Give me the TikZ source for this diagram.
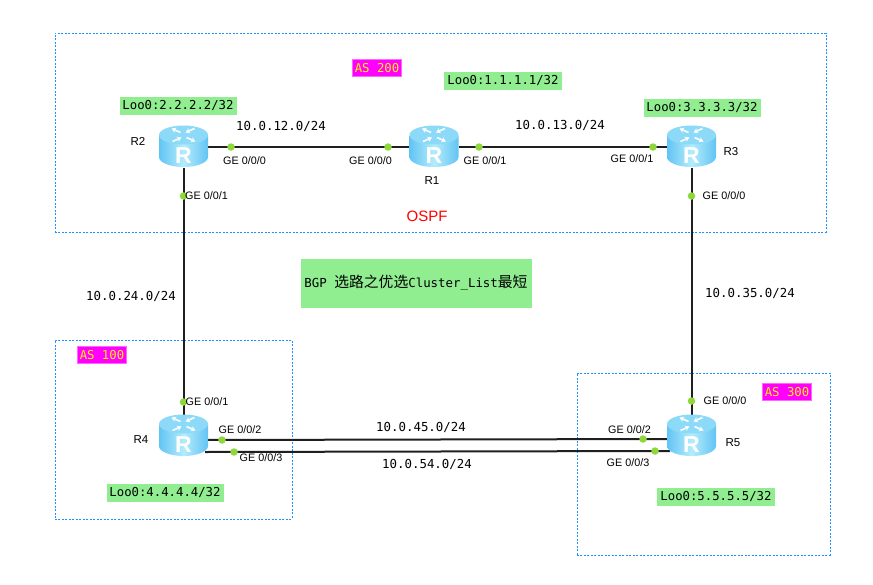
\documentclass[tikz,border=0pt]{standalone}
\usepackage{fontspec}
\usetikzlibrary{arrows.meta}
\setmainfont{Liberation Sans}
\newfontfamily\monof{DejaVu Sans Mono}
\newfontfamily\cjkf{Noto Sans CJK SC}
\definecolor{lgreen}{HTML}{90EE90}
\definecolor{mag}{HTML}{FF00FF}
\definecolor{dotg}{HTML}{8FD83C}
\definecolor{areab}{HTML}{1E90FF}
\definecolor{rside}{HTML}{62C4F4}
\definecolor{rmid}{HTML}{B4ECFC}
\definecolor{rtop}{HTML}{8CDAF8}
\tikzset{
  link/.style={line width=2pt,draw=black!88},
  area/.style={draw=areab,line width=0.7pt,dash pattern=on 2pt off 1.5pt},
  loo/.style={fill=lgreen,inner sep=0pt,minimum height=18pt,text=black,font=\monof\fontsize{12.3}{14}\selectfont},
  asn/.style={fill=mag,draw=mag!60!white,line width=0.5pt,inner sep=0pt,minimum height=17pt,minimum width=49pt,text=yellow,font=\monof\fontsize{12.3}{14}\selectfont},
  net/.style={inner sep=0pt,font=\monof\fontsize{12.4}{14}\selectfont},
  ge/.style={inner sep=0pt,font=\fontsize{10.8}{12}\selectfont},
  rname/.style={inner sep=0pt,font=\fontsize{11.5}{13}\selectfont},
  port/.style={circle,fill=dotg,draw=none,minimum size=7.5pt,inner sep=0pt},
  rt/.style={minimum width=49pt,minimum height=42pt,inner sep=0pt},
  rarrow/.style={white,opacity=.9,line width=1.7pt,-{Stealth[length=4.5pt,width=5.5pt]}}
}
% router icon centred on a named node
\newcommand{\routericon}[1]{%
  \begin{scope}[shift={(#1)}]
    \shade[left color=rside,right color=rside,middle color=rmid]
      (-24.5,-11.5) -- (-24.5,10) arc[x radius=24.5,y radius=10,start angle=180,end angle=0] -- (24.5,-11.5) -- cycle;
    \fill[rtop] (0,-12) ellipse[x radius=24.5,y radius=9.5];
    \draw[rarrow] (-3,-14.5) -- (-12,-18.5);
    \draw[rarrow] (3,-9.5) -- (12,-5.5);
    \draw[rarrow] (11,-18.5) -- (2,-14.5);
    \draw[rarrow] (-11,-5.5) -- (-2,-9.5);
    \node[inner sep=0pt,text=white,font=\bfseries\fontsize{23}{23}\selectfont] at (0,9) {R};
  \end{scope}}
\begin{document}
\begin{tikzpicture}[x=1pt,y=-1pt]
\useasboundingbox (0,0) rectangle (873,584);
\fill[white] (0,0) rectangle (873,584);
% areas
\node[area,draw,minimum width=771pt,minimum height=199pt,inner sep=0pt,anchor=north west] (as200) at (54.5,32.5) {};
\node[area,draw,minimum width=237pt,minimum height=179pt,inner sep=0pt,anchor=north west] (as100) at (54.5,339.5) {};
\node[area,draw,minimum width=253pt,minimum height=182pt,inner sep=0pt,anchor=north west] (as300) at (576.5,372.5) {};
% routers
\node[rt] (R2) at (183.5,147) {};
\node[rt] (R1) at (434,147) {};
\node[rt] (R3) at (691.5,147) {};
\node[rt] (R4) at (183.5,436) {};
\node[rt] (R5) at (691.5,436) {};
% free ends of the parallel links
\coordinate (R4a) at (205,440);
\coordinate (R4b) at (205,452);
\coordinate (R5a) at (670,439);
\coordinate (R5b) at (670,451);
% links
\draw[link] (R2) -- (R1);
\draw[link] (R1) -- (R3);
\draw[link] (R2) -- (R4);
\draw[link] (R3) -- (R5);
\draw[link] (R4a) -- (R5a);
\draw[link] (R4b) -- (R5b);
% ports
\node[port] (p1) at (231,147) {};
\node[port] (p2) at (388,147) {};
\node[port] (p3) at (479,147) {};
\node[port] (p4) at (653,147) {};
\node[port] (p5) at (183.5,196) {};
\node[port] (p6) at (691.5,196) {};
\node[port] (p7) at (183.5,402) {};
\node[port] (p8) at (691.5,401) {};
\node[port] (p9) at (222,440) {};
\node[port] (p10) at (234,452) {};
\node[port] (p11) at (643,439) {};
\node[port] (p12) at (655,451) {};
% router icons
\routericon{R2}\routericon{R1}\routericon{R3}\routericon{R4}\routericon{R5}
% interface labels
\node[ge] (g1) at (244.5,161) {GE 0/0/0};
\node[ge] (g2) at (370.5,161) {GE 0/0/0};
\node[ge] (g3) at (485,161) {GE 0/0/1};
\node[ge] (g4) at (632,159) {GE 0/0/1};
\node[ge] (g5) at (206.5,196) {GE 0/0/1};
\node[ge] (g6) at (724,196) {GE 0/0/0};
\node[ge] (g7) at (207,402) {GE 0/0/1};
\node[ge] (g8) at (725,401) {GE 0/0/0};
\node[ge] (g9) at (240,430) {GE 0/0/2};
\node[ge] (g10) at (261,458) {GE 0/0/3};
\node[ge] (g11) at (629.5,430) {GE 0/0/2};
\node[ge] (g12) at (628,463) {GE 0/0/3};
% router names
\node[rname] (n2) at (138,141) {R2};
\node[rname] (n1) at (432,181) {R1};
\node[rname] (n3) at (731,152) {R3};
\node[rname] (n4) at (141,440) {R4};
\node[rname] (n5) at (733,443) {R5};
% network labels
\node[net] (l1) at (281,126) {10.0.12.0/24};
\node[net] (l2) at (560,125) {10.0.13.0/24};
\node[net] (l3) at (131,296) {10.0.24.0/24};
\node[net] (l4) at (750,293) {10.0.35.0/24};
\node[net] (l5) at (421,427) {10.0.45.0/24};
\node[net] (l6) at (427,464) {10.0.54.0/24};
% loopbacks
\node[loo,minimum width=117pt] (b2) at (178,105.5) {Loo0:2.2.2.2/32};
\node[loo,minimum width=118pt] (b1) at (503,80.5) {Loo0:1.1.1.1/32};
\node[loo,minimum width=117pt] (b3) at (702,107.5) {Loo0:3.3.3.3/32};
\node[loo,minimum width=117pt] (b4) at (165,492.5) {Loo0:4.4.4.4/32};
\node[loo,minimum width=118pt] (b5) at (716,496.5) {Loo0:5.5.5.5/32};
% AS tags
\node[asn] (a2) at (377,68) {AS 200};
\node[asn] (a1) at (102,355) {AS 100};
\node[asn] (a3) at (787,392) {AS 300};
% OSPF
\node[inner sep=0pt,text=red,font=\fontsize{15}{17}\selectfont] (ospf) at (427,216) {OSPF};
% title
\node[fill=lgreen,minimum width=231pt,minimum height=49pt,inner sep=0pt,text=black] (title) at (416,283)
  {\monof\fontsize{12.4}{14}\selectfont BGP {\cjkf\fontsize{14.8}{16}\selectfont 选路之优选}Cluster\_List{\cjkf\fontsize{14.8}{16}\selectfont 最短}};
\end{tikzpicture}
\end{document}
